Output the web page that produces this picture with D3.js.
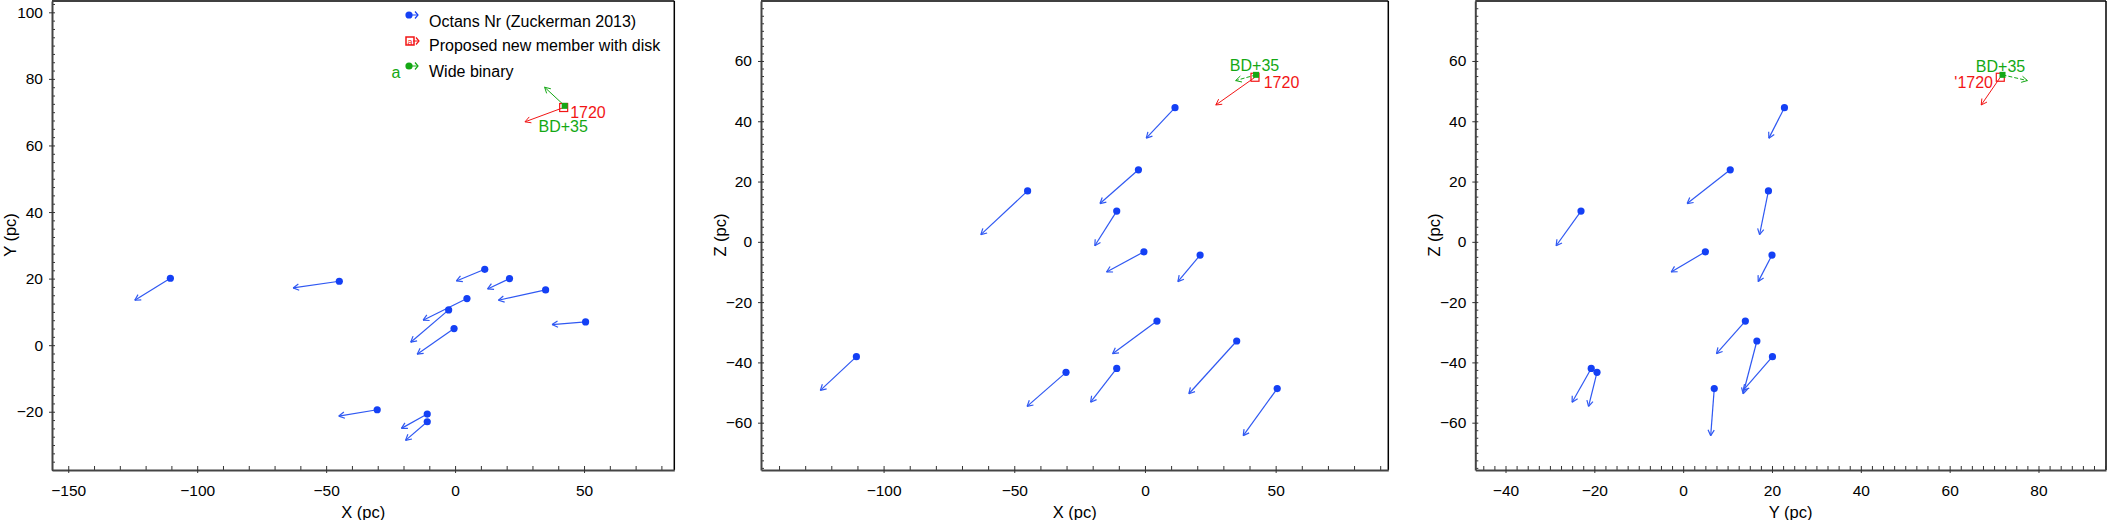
<!DOCTYPE html>
<html>
<head>
<meta charset="utf-8">
<script src="https://cdn.jsdelivr.net/npm/d3@7"></script>
<style>
  body { margin: 0; background: #fff; }
  text { font-family: "Liberation Sans", Arial, Helvetica, sans-serif; }
</style>
</head>
<body>
<svg width="2107" height="520"></svg>
<script>
// Octans stars: positions (pc) and motion vectors drawn as arrows
var octX  = [11.5, -2.5, -44.9, -10.8, -0.4, 21.1, 4.6, 35.1, -110.4, -30.2, -10.8, 50.6];
var octY  = [22.8, 10.6, 19.2, -23.0, 5.0, 20.0, 14.0, 16.6, 20.1, -19.4, -20.7, 7.0];
var octZ  = [44.5, 23.9, 16.9, 10.2, -3.3, -4.4, -26.3, -32.9, -38.1, -43.3, -42.0, -48.7];
var octDX = [-11.0, -14.7, -17.9, -8.4, -14.3, -8.5, -17.0, -18.3, -13.8, -14.9, -10.0, -13.0];
var octDY = [-3.5, -9.7, -2.0, -5.6, -7.7, -3.1, -6.5, -3.1, -6.6, -1.9, -4.3, -0.8];
var octDZ = [-10.1, -11.2, -14.5, -11.5, -6.7, -8.8, -10.8, -17.5, -11.2, -11.3, -11.2, -15.6];

// proposed new member (red) and its wide binary companion (green): [X, Y, Z]
var diskPos = [42.1, 71.4, 54.6];
var diskVel = [-15.0, -4.3, -9.2];
var binPos  = [42.5, 71.9, 55.4];
var binVel  = [-7.8, 5.6, -1.9];

var legendLabels = ['Octans Nr (Zuckerman 2013)', 'Proposed new member with disk', 'Wide binary'];

var octPos = [octX, octY, octZ];
var octVel = [octDX, octDY, octDZ];

var blue = '#1440f5', blueLine = '#2f58f2', red = '#f21515', green = '#14a814';

var svg = d3.select('svg');
var top0 = 1, bottom0 = 470;

var panels = [
  {left: 52, right: 674.3, xi: 0, yi: 1, xDom: [-156.3, 85], yDom: [-37.5, 103.4], xMaj: 50, xMin: 10,
   xTitle: 'X (pc)', yTitle: 'Y (pc)', yTitleX: 10, binDash: null,
   diskLab: {text: '1720', dx: 6.5, dy: 5, anchor: 'start'}, binLab: {dx: -1.5, dy: 20.7}},
  {left: 761, right: 1388.3, xi: 0, yi: 2, xDom: [-146.9, 93.1], yDom: [-75.7, 79.9], xMaj: 50, xMin: 10,
   xTitle: 'X (pc)', yTitle: 'Z (pc)', yTitleX: 720, binDash: '4,2',
   diskLab: {text: '1720', dx: 8.7, dy: 5.4, anchor: 'start'}, binLab: {dx: -1.5, dy: -9}},
  {left: 1475.3, right: 2106, xi: 1, yi: 2, xDom: [-46.8, 95.2], yDom: [-75.7, 79.9], xMaj: 20, xMin: 2.5,
   xTitle: 'Y (pc)', yTitle: 'Z (pc)', yTitleX: 1434, binDash: '4,2',
   diskLab: {text: "'1720", dx: -7.3, dy: 5.4, anchor: 'end'}, binLab: {dx: -2, dy: -8.3}}
];

function stepTicks(dom, step) {
  return d3.range(Math.ceil(dom[0] / step - 1e-9) * step, dom[1] + 1e-9, step);
}

function drawArrow(g, x1, y1, x2, y2, color, width, dash) {
  g.append('line').attr('x1', x1).attr('y1', y1).attr('x2', x2).attr('y2', y2)
    .attr('stroke', color).attr('stroke-width', width).attr('stroke-dasharray', dash);
  var a = Math.atan2(y2 - y1, x2 - x1), L = 6.5, s = 0.5;
  [a + Math.PI - s, a + Math.PI + s].forEach(function(b){
    g.append('line').attr('x1', x2).attr('y1', y2)
      .attr('x2', x2 + L * Math.cos(b)).attr('y2', y2 + L * Math.sin(b))
      .attr('stroke', color).attr('stroke-width', width);
  });
}

panels.forEach(function(p){
  var x = d3.scaleLinear().domain(p.xDom).range([p.left, p.right]);
  var y = d3.scaleLinear().domain(p.yDom).range([bottom0, top0]);
  var g = svg.append('g');

  //frame top and right
  g.append('line').attr('x1', p.left).attr('x2', p.right).attr('y1', top0).attr('y2', top0)
    .attr('stroke', '#000').attr('stroke-width', 1.5);
  g.append('line').attr('x1', p.right).attr('x2', p.right).attr('y1', top0).attr('y2', bottom0)
    .attr('stroke', '#000').attr('stroke-width', 1.5);

  var xMajor = stepTicks(p.xDom, p.xMaj);
  var xMinor = stepTicks(p.xDom, p.xMin).filter(function(v){ return Math.abs(v / p.xMaj - Math.round(v / p.xMaj)) > 1e-6; });
  var yMajor = stepTicks(p.yDom, 20);
  var yMinor = stepTicks(p.yDom, 2.5).filter(function(v){ return Math.abs(v / 20 - Math.round(v / 20)) > 1e-6; });

  // minor ticks, inside only
  g.append('g').attr('transform', 'translate(0,' + bottom0 + ')')
    .call(d3.axisBottom(x).tickValues(xMinor).tickSize(-4).tickFormat(''))
    .call(function(s){ s.select('.domain').remove(); s.selectAll('line').attr('stroke', '#333'); });
  g.append('g').attr('transform', 'translate(' + p.left + ',0)')
    .call(d3.axisLeft(y).tickValues(yMinor).tickSize(-3).tickFormat(''))
    .call(function(s){ s.select('.domain').remove(); s.selectAll('line').attr('stroke', '#333'); });

  // major ticks crossing the axis line
  var xa = g.append('g').attr('transform', 'translate(0,' + bottom0 + ')')
    .call(d3.axisBottom(x).tickValues(xMajor).tickSizeOuter(0).tickPadding(9));
  xa.selectAll('.tick line').attr('y1', -4).attr('y2', 3).attr('stroke', '#333');
  xa.selectAll('.tick text').attr('font-size', 15.5).attr('fill', '#000')
    .attr('font-family', '"Liberation Sans", Arial, sans-serif');
  xa.select('.domain').attr('stroke', '#444').attr('stroke-width', 2);

  var ya = g.append('g').attr('transform', 'translate(' + p.left + ',0)')
    .call(d3.axisLeft(y).tickValues(yMajor).tickSizeOuter(0).tickPadding(3));
  ya.selectAll('.tick line').attr('x1', -3).attr('x2', 3).attr('stroke', '#333');
  ya.selectAll('.tick text').attr('font-size', 15.5).attr('fill', '#000')
    .attr('font-family', '"Liberation Sans", Arial, sans-serif');
  ya.select('.domain').attr('stroke', '#444').attr('stroke-width', 2);

  // axis titles
  g.append('text').text(p.xTitle)
    .attr('x', (p.left + p.right) / 2).attr('y', 512)
    .attr('font-size', 16.5).attr('text-anchor', 'middle').attr('dominant-baseline', 'central');
  g.append('text').text(p.yTitle)
    .attr('transform', 'translate(' + p.yTitleX + ',235)rotate(-90)')
    .attr('font-size', 16.5).attr('text-anchor', 'middle').attr('dominant-baseline', 'central');

  // Octans arrows + dots
  var xs = octPos[p.xi], ys = octPos[p.yi], dxs = octVel[p.xi], dys = octVel[p.yi];
  xs.forEach(function(v, i){
    drawArrow(g, x(v), y(ys[i]), x(v + dxs[i]), y(ys[i] + dys[i]), blueLine, 1.2, null);
  });
  g.selectAll('.oct').data(xs).enter().append('circle')
    .attr('cx', function(d){ return x(d); })
    .attr('cy', function(d, i){ return y(ys[i]); })
    .attr('r', 3.6).attr('fill', blue);

  // proposed member (red hollow square)
  var rx = x(diskPos[p.xi]), ry = y(diskPos[p.yi]);
  drawArrow(g, rx, ry, x(diskPos[p.xi] + diskVel[p.xi]), y(diskPos[p.yi] + diskVel[p.yi]), red, 1, null);
  // binary companion (green filled square)
  var bx = x(binPos[p.xi]), by = y(binPos[p.yi]);
  drawArrow(g, bx, by, x(binPos[p.xi] + binVel[p.xi]), y(binPos[p.yi] + binVel[p.yi]), green, 1, p.binDash);
  g.append('rect').attr('x', rx - 4).attr('y', ry - 4).attr('width', 8).attr('height', 8)
    .attr('fill', 'none').attr('stroke', red).attr('stroke-width', 1.2);
  g.append('rect').attr('x', bx - 3).attr('y', by - 3).attr('width', 6).attr('height', 6)
    .attr('fill', green);

  g.append('text').text(p.diskLab.text)
    .attr('x', rx + p.diskLab.dx).attr('y', ry + p.diskLab.dy)
    .attr('font-size', 16).attr('fill', red).attr('text-anchor', p.diskLab.anchor)
    .attr('dominant-baseline', 'central');
  g.append('text').text('BD+35')
    .attr('x', bx + p.binLab.dx).attr('y', by + p.binLab.dy)
    .attr('font-size', 16).attr('fill', green).attr('text-anchor', 'middle')
    .attr('dominant-baseline', 'central');
});

// legend in the first panel
var leg = svg.append('g');
function chevron(cx, cy, color){
  leg.append('path').attr('d', 'M' + (cx - 3) + ',' + (cy - 3.5) + 'L' + cx + ',' + cy + 'L' + (cx - 3) + ',' + (cy + 3.5))
    .attr('fill', 'none').attr('stroke', color).attr('stroke-width', 1.2);
  leg.append('line').attr('x1', cx - 6).attr('x2', cx).attr('y1', cy).attr('y2', cy)
    .attr('stroke', color).attr('stroke-width', 1);
}
leg.append('circle').attr('cx', 409).attr('cy', 15).attr('r', 3.6).attr('fill', blue);
chevron(418, 15, blue);
leg.append('rect').attr('x', 406).attr('y', 37).attr('width', 8).attr('height', 8)
  .attr('fill', 'none').attr('stroke', red).attr('stroke-width', 1.5);
leg.append('text').text('a').attr('x', 410).attr('y', 41.5).attr('font-size', 9).attr('fill', red)
  .attr('text-anchor', 'middle').attr('dominant-baseline', 'central');
chevron(419, 41, red);
leg.append('text').text('a').attr('x', 396).attr('y', 72).attr('font-size', 16).attr('fill', green)
  .attr('text-anchor', 'middle').attr('dominant-baseline', 'central');
leg.append('circle').attr('cx', 409).attr('cy', 66).attr('r', 3.6).attr('fill', green);
chevron(418, 66, green);

leg.selectAll('.lt').data(legendLabels).enter().append('text')
  .text(function(d){ return d; })
  .attr('x', 429).attr('y', function(d, i){ return [21.7, 45.7, 71][i]; })
  .attr('font-size', 16).attr('fill', '#000').attr('dominant-baseline', 'central');
</script>
</body>
</html>
